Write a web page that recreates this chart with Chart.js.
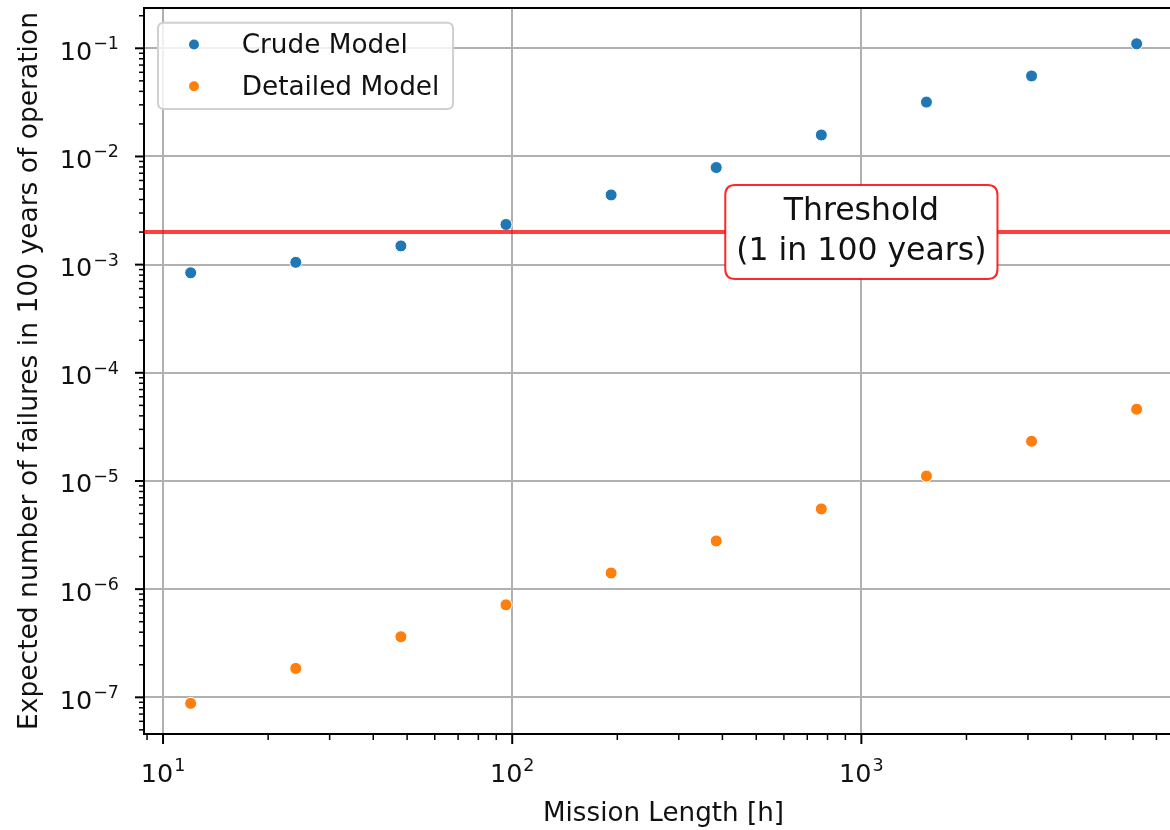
<!DOCTYPE html>
<html>
<head>
<meta charset="utf-8">
<script src="https://cdn.jsdelivr.net/npm/chart.js@4.4.0/dist/chart.umd.min.js"></script>
<style>
  html, body { margin: 0; padding: 0; background: #fff; overflow: hidden; }
  #wrap { width: 1170px; height: 830px; overflow: hidden; }
  canvas { display: block; }
</style>
</head>
<body>
<div id="wrap"><canvas id="failure-graph" width="1190" height="830"></canvas></div>
<script>
const missionHours = [12, 24, 48, 96, 192, 384, 768, 1536, 3072, 6144];
const crudeModel = [8.4e-4, 1.05e-3, 1.49e-3, 2.35e-3, 4.41e-3, 7.9e-3, 1.58e-2, 3.18e-2, 5.55e-2, 1.10e-1];
const detailedModel = [8.8e-8, 1.85e-7, 3.63e-7, 7.16e-7, 1.41e-6, 2.79e-6, 5.52e-6, 1.11e-5, 2.33e-5, 4.61e-5];
const threshold = 2.0e-3;
const thresholdLabel = ['Threshold', '(1 in 100 years)'];
const xMajorTicks = [10, 100, 1000];
const yMajorTicks = [1e-7, 1e-6, 1e-5, 1e-4, 1e-3, 1e-2, 1e-1];

const X_MIN = 8.82, X_MAX = 8340;
const Y_MIN = 4.58e-8, Y_MAX = 0.2358;
const FONT = '"DejaVu Sans", sans-serif';

const toPoints = (ys) => missionHours.map((x, i) => ({ x: x, y: ys[i] }));

// minor + major ticks like matplotlib's log locator
function logTicks(scale) {
  const ticks = [];
  const lo = Math.floor(Math.log10(scale.min)), hi = Math.ceil(Math.log10(scale.max));
  for (let e = lo; e <= hi; e++) {
    for (let m = 1; m < 10; m++) {
      const v = m * Math.pow(10, e);
      if (v >= scale.min && v <= scale.max) ticks.push({ value: v, major: m === 1 });
    }
  }
  scale.ticks = ticks;
}

function drawPow(ctx, value, x, y, align) {
  const exp = Math.round(Math.log10(value));
  const sup = exp < 0 ? '\u2212' + (-exp) : String(exp);
  ctx.font = '25.5px ' + FONT;
  const wb = ctx.measureText('10').width;
  ctx.font = '17.5px ' + FONT;
  const ws = ctx.measureText(sup).width;
  const total = wb + 1 + ws;
  const left = align === 'right' ? x - total : x - total / 2;
  ctx.textAlign = 'left';
  ctx.textBaseline = 'alphabetic';
  ctx.font = '25.5px ' + FONT;
  ctx.fillText('10', left, y);
  ctx.font = '17.5px ' + FONT;
  ctx.fillText(sup, left + wb + 1, y - 10.5);
}

function roundBox(ctx, x, y, w, h, r) {
  ctx.beginPath();
  ctx.moveTo(x + r, y);
  ctx.lineTo(x + w - r, y);
  ctx.quadraticCurveTo(x + w, y, x + w, y + r);
  ctx.lineTo(x + w, y + h - r);
  ctx.quadraticCurveTo(x + w, y + h, x + w - r, y + h);
  ctx.lineTo(x + r, y + h);
  ctx.quadraticCurveTo(x, y + h, x, y + h - r);
  ctx.lineTo(x, y + r);
  ctx.quadraticCurveTo(x, y, x + r, y);
  ctx.closePath();
}

const axesDecor = {
  id: 'axesDecor',
  afterDraw(chart) {
    const { ctx, chartArea: a, scales: { x, y } } = chart;
    ctx.save();
    // top spine
    ctx.strokeStyle = '#000';
    ctx.lineWidth = 2;
    ctx.beginPath();
    ctx.moveTo(a.left - 1, a.top);
    ctx.lineTo(a.right + 1, a.top);
    ctx.moveTo(a.right, a.top);
    ctx.lineTo(a.right, a.bottom);
    ctx.stroke();
    // tick marks
    ctx.strokeStyle = '#000';
    x.ticks.forEach(t => {
      const px = x.getPixelForValue(t.value);
      ctx.lineWidth = t.major ? 2 : 1.5;
      ctx.beginPath();
      ctx.moveTo(px, a.bottom);
      ctx.lineTo(px, a.bottom + (t.major ? 10 : 6));
      ctx.stroke();
    });
    y.ticks.forEach(t => {
      const py = y.getPixelForValue(t.value);
      ctx.lineWidth = t.major ? 2 : 1.5;
      ctx.beginPath();
      ctx.moveTo(a.left, py);
      ctx.lineTo(a.left - (t.major ? 9 : 5), py);
      ctx.stroke();
    });
    // tick labels
    ctx.fillStyle = '#111';
    xMajorTicks.forEach(v => drawPow(ctx, v, x.getPixelForValue(v), a.bottom + 47.7, 'center'));
    yMajorTicks.forEach(v => drawPow(ctx, v, 119, y.getPixelForValue(v) + 11.5, 'right'));

    // threshold annotation box
    const cx = x.getPixelForValue(1000), cy = y.getPixelForValue(threshold);
    ctx.font = '31.5px ' + FONT;
    const tw = Math.max(...thresholdLabel.map(s => ctx.measureText(s).width));
    const bw = tw + 22, bh = 94;
    roundBox(ctx, cx - bw / 2, cy - bh / 2, bw, bh, 10);
    ctx.fillStyle = '#fff';
    ctx.fill();
    ctx.strokeStyle = 'rgba(255,0,0,0.85)';
    ctx.lineWidth = 2;
    ctx.stroke();
    ctx.fillStyle = '#111';
    ctx.textAlign = 'center';
    ctx.textBaseline = 'alphabetic';
    ctx.fillText(thresholdLabel[0], cx, cy - 12);
    ctx.fillText(thresholdLabel[1], cx, cy + 28);

    // legend
    roundBox(ctx, 158, 22.7, 295, 86.3, 6);
    ctx.fillStyle = 'rgba(255,255,255,0.8)';
    ctx.fill();
    ctx.strokeStyle = '#d0d0d0';
    ctx.lineWidth = 2;
    ctx.stroke();
    const rows = [44.5, 86.2];
    chart.data.datasets.slice(0, 2).forEach((ds, i) => {
      ctx.beginPath();
      ctx.arc(194, rows[i], 5, 0, Math.PI * 2);
      ctx.fillStyle = ds.backgroundColor;
      ctx.fill();
      ctx.fillStyle = '#111';
      ctx.font = '26.3px ' + FONT;
      ctx.textAlign = 'left';
      ctx.fillText(ds.label, 241.7, rows[i] + 8.5);
    });
    ctx.restore();
  }
};

const gridColor = c => (c.tick && c.tick.major) ? '#b0b0b0' : 'rgba(0,0,0,0)';

new Chart(document.getElementById('failure-graph'), {
  type: 'scatter',
  data: {
    datasets: [{
      label: 'Crude Model',
      data: toPoints(crudeModel),
      backgroundColor: '#1f77b4',
      borderColor: '#ffffff',
      borderWidth: 1,
      pointRadius: 6,
      order: 2
    }, {
      label: 'Detailed Model',
      data: toPoints(detailedModel),
      backgroundColor: '#ff7f0e',
      borderColor: '#ffffff',
      borderWidth: 1,
      pointRadius: 6,
      order: 2
    }, {
      type: 'line',
      label: 'threshold',
      data: [{ x: X_MIN, y: threshold }, { x: X_MAX, y: threshold }],
      borderColor: 'rgba(255,0,0,0.75)',
      borderWidth: 4,
      pointRadius: 0,
      fill: false,
      order: 1
    }]
  },
  options: {
    responsive: false,
    animation: false,
    layout: { padding: { top: 8, right: 6, left: 0, bottom: 0 } },
    plugins: { legend: { display: false }, tooltip: { enabled: false } },
    scales: {
      x: {
        type: 'logarithmic',
        min: X_MIN,
        max: X_MAX,
        afterBuildTicks: logTicks,
        afterFit: s => { s.height = 96; },
        ticks: { display: false },
        grid: { color: gridColor, lineWidth: 2, drawTicks: false },
        border: { display: true, color: '#000', width: 2 },
        title: {
          display: true,
          text: 'Mission Length [h]',
          color: '#111',
          font: { family: FONT, size: 26.2 },
          padding: { top: 0, bottom: 0 }
        }
      },
      y: {
        type: 'logarithmic',
        min: Y_MIN,
        max: Y_MAX,
        afterBuildTicks: logTicks,
        afterFit: s => { s.width = 144; },
        ticks: { display: false },
        grid: { color: gridColor, lineWidth: 2, drawTicks: false },
        border: { display: true, color: '#000', width: 2 },
        title: {
          display: true,
          text: 'Expected number of failures in 100 years of operation',
          color: '#111',
          font: { family: FONT, size: 26.5 },
          padding: { top: 14, bottom: 0 }
        }
      }
    }
  },
  plugins: [axesDecor]
});
</script>
</body>
</html>
